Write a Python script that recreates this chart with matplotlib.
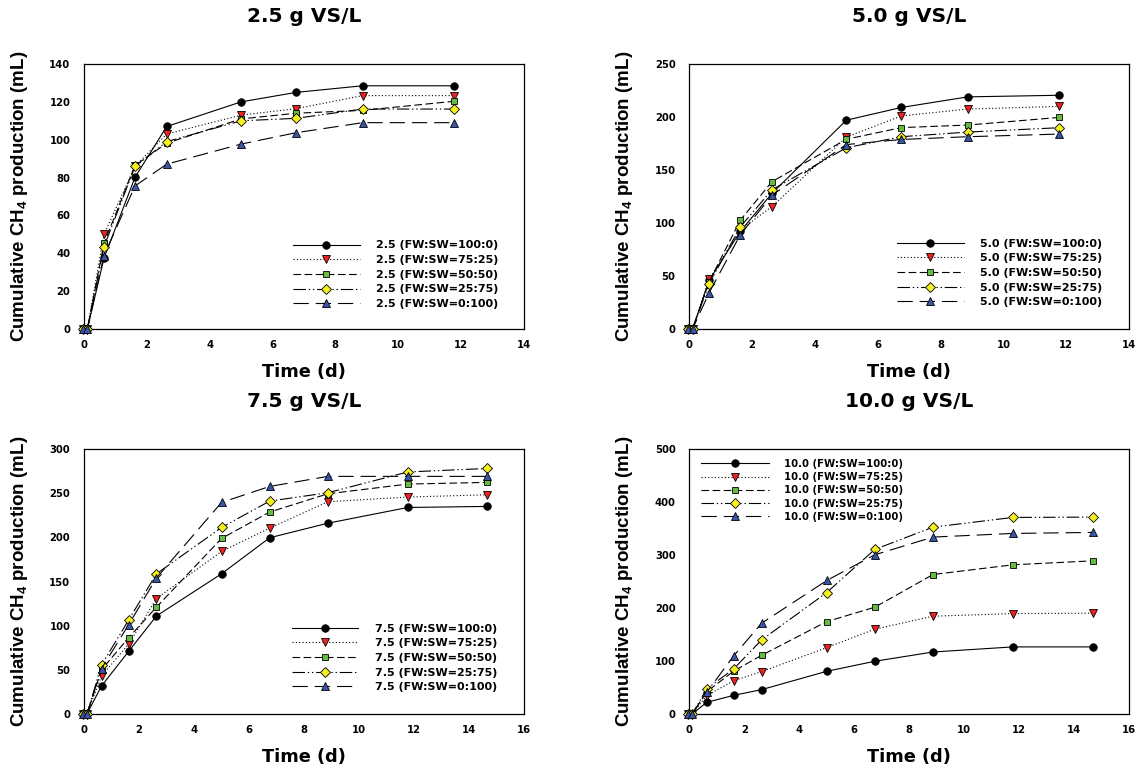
import matplotlib
matplotlib.use("Agg")
import matplotlib.pyplot as plt

plt.rcParams['lines.scale_dashes'] = False
plt.rcParams['mathtext.fontset'] = 'custom'
plt.rcParams['mathtext.rm'] = 'Liberation Sans:bold'
plt.rcParams['mathtext.bf'] = 'Liberation Sans:bold'
plt.rcParams['mathtext.it'] = 'Liberation Sans:bold'

# ---------------- data ----------------
time_12 = [-0.05, 0.1, 0.63, 1.62, 2.63, 5.0, 6.75, 8.87, 11.78]
time_15 = [-0.05, 0.1, 0.63, 1.62, 2.63, 5.0, 6.75, 8.87, 11.78, 14.68]

ratios = ["FW:SW=100:0", "FW:SW=75:25", "FW:SW=50:50", "FW:SW=25:75", "FW:SW=0:100"]
loads = ["2.5", "5.0", "7.5", "10.0"]

# 2.5 g VS/L
l25_100_0 = [0, 0, 37.4, 80.2, 107, 120, 125, 128.5, 128.5]
l25_75_25 = [0, 0, 50, 86, 103, 113, 116.4, 123.3, 123.3]
l25_50_50 = [0, 0, 45.3, 86.4, 98.2, 111, 114, 115.5, 120.3]
l25_25_75 = [0, 0, 43.5, 85.9, 99, 110, 111.3, 116.2, 116.2]
l25_0_100 = [0, 0, 38.8, 75.6, 87.1, 97.7, 103.7, 109, 109]

# 5.0 g VS/L
l50_100_0 = [0, 0, 46, 92, 128, 197, 209, 219, 220.5]
l50_75_25 = [0, 0, 47, 93.5, 115.5, 181, 201, 207.5, 210]
l50_50_50 = [0, 0, 44.7, 102.6, 139, 179, 190, 192.4, 199.6]
l50_25_75 = [0, 0, 42.8, 96.3, 131.3, 171, 181.4, 185.8, 189.9]
l50_0_100 = [0, 0, 34.3, 88.8, 126.3, 174, 178.8, 181.4, 183.9]

# 7.5 g VS/L
l75_100_0 = [0, 0, 31.7, 71, 111, 158.7, 199.5, 216, 233.8, 235]
l75_75_25 = [0, 0, 43, 79.3, 130.7, 184, 210.4, 240.3, 245.6, 248.2]
l75_50_50 = [0, 0, 50, 86.5, 121, 198.7, 228.6, 249.3, 260.3, 262.2]
l75_25_75 = [0, 0, 55.5, 106.5, 158.7, 211.2, 241, 250.5, 274, 278]
l75_0_100 = [0, 0, 51.4, 101.2, 154, 239.5, 257.6, 269, 269, 269]

# 10.0 g VS/L
l100_100_0 = [0, 0, 22, 35.3, 46, 80.6, 99.5, 117, 126.6, 126.6]
l100_75_25 = [0, 0, 34.6, 63, 80, 125.3, 160, 184.5, 189.5, 190.2]
l100_50_50 = [0, 0, 42, 81.2, 110.8, 174.4, 201.5, 263.2, 281.5, 289]
l100_25_75 = [0, 0, 47.2, 85.6, 139.8, 229.2, 310.5, 352.6, 370.9, 371.5]
l100_0_100 = [0, 0, 41, 110.2, 171.3, 251.9, 300.4, 333.8, 340.7, 342.6]

# ---------------- styles ----------------
markers = ['o', 'v', 's', 'D', '^']
msizes = [5.4, 5.8, 5.0, 5.0, 5.8]
fills = ['#000000', '#ee2020', '#66bb44', '#f5f020', '#3a55a8']
lstyles = ['-', (0, (0.8, 1.6)), (0, (5.5, 2.5)), (0, (9, 2, 1, 2, 1, 2)), (0, (11, 5))]

fig = plt.figure(figsize=(11.38, 7.7), dpi=100)

W = 439.5 / 1138
H = 265 / 770
panels = [
    dict(pos=[84.2 / 1138, 1 - 329 / 770, W, H], t=time_12,
         ys=[l25_100_0, l25_75_25, l25_50_50, l25_25_75, l25_0_100],
         ylim=(0, 140), ystep=20, xmax=14, load=loads[0],
         leg=(0.475, 0.334), lfs=8.0, hl=6.0, ls=0.42),
    dict(pos=[689.4 / 1138, 1 - 329 / 770, W, H], t=time_12,
         ys=[l50_100_0, l50_75_25, l50_50_50, l50_25_75, l50_0_100],
         ylim=(0, 250), ystep=50, xmax=14, load=loads[1],
         leg=(0.472, 0.3415), lfs=8.0, hl=6.0, ls=0.42),
    dict(pos=[84.2 / 1138, 1 - 714 / 770, W, H], t=time_15,
         ys=[l75_100_0, l75_75_25, l75_50_50, l75_25_75, l75_0_100],
         ylim=(0, 300), ystep=50, xmax=16, load=loads[2],
         leg=(0.472, 0.3415), lfs=8.0, hl=6.0, ls=0.42),
    dict(pos=[689.4 / 1138, 1 - 714 / 770, W, H], t=time_15,
         ys=[l100_100_0, l100_75_25, l100_50_50, l100_25_75, l100_0_100],
         ylim=(0, 500), ystep=100, xmax=16, load=loads[3],
         leg=(0.026, 0.963), lfs=7.3, hl=6.7, ls=0.32),
]

bold = dict(family='DejaVu Sans', weight='bold')

for p in panels:
    ax = fig.add_axes(p['pos'])
    for i in range(5):
        ax.plot(p['t'], p['ys'][i], color='black', lw=0.8, linestyle=lstyles[i],
                marker=markers[i], ms=msizes[i], mfc=fills[i], mec='black', mew=0.6,
                clip_on=False, zorder=3 + i,
                label=f"{p['load']} ({ratios[i]})")
    ax.set_xlim(0, p['xmax'])
    ax.set_ylim(*p['ylim'])
    ax.set_xticks(range(0, p['xmax'] + 1, 2))
    ax.set_yticks(range(p['ylim'][0], p['ylim'][1] + 1, p['ystep']))
    ax.tick_params(axis='both', length=0, labelsize=7.2)
    ax.tick_params(axis='y', pad=10)
    ax.tick_params(axis='x', pad=8)
    for lab in ax.get_xticklabels() + ax.get_yticklabels():
        lab.set_fontfamily('DejaVu Sans')
        lab.set_fontweight('bold')
    for s in ax.spines.values():
        s.set_linewidth(0.9)
    ax.set_ylabel(r'Cumulative CH$_{4}$ production (mL)', family='Liberation Sans',
                  weight='bold', fontsize=13.5, va='center')
    ax.yaxis.set_label_coords(-0.147, 0.5)
    ax.set_xlabel('Time (d)', fontsize=12.8, va='center', **bold)
    ax.xaxis.set_label_coords(0.5, -0.162)
    ax.text(0.5, 1.181, f"{p['load']} g VS/L", transform=ax.transAxes,
            ha='center', va='center', fontsize=14.5, **bold)
    leg = ax.legend(loc='upper left', bbox_to_anchor=p['leg'], frameon=False,
                    borderpad=0, borderaxespad=0, handlelength=p['hl'],
                    handletextpad=1.5, labelspacing=p['ls'],
                    prop=dict(family='DejaVu Sans', weight='bold', size=p['lfs']))

fig.savefig('out.png', dpi=100)
